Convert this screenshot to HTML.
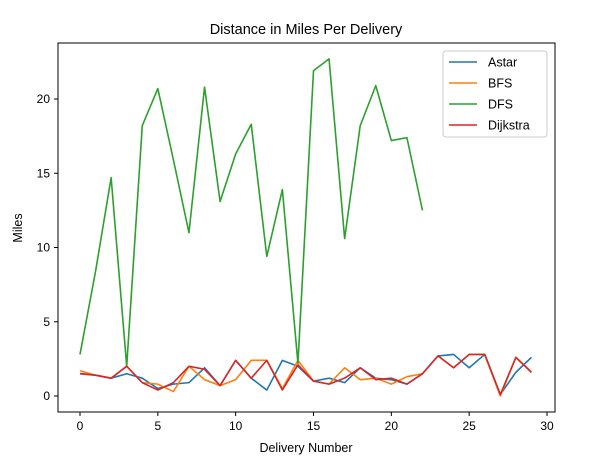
<!DOCTYPE html>
<html><head><meta charset="utf-8"><style>
body{margin:0;background:#fff;}
svg text{font-family:"Liberation Sans","DejaVu Sans",sans-serif;fill:#000;}
</style></head><body>
<svg id="chart" width="591" height="465" xmlns="http://www.w3.org/2000/svg">
<rect width="591" height="465" fill="#fff"/>
<text x="306" y="34" font-size="14.5" text-anchor="middle">Distance in Miles Per Delivery</text>
<text x="306" y="452" font-size="12.5" text-anchor="middle">Delivery Number</text>
<text x="22" y="228" font-size="12.5" text-anchor="middle" transform="rotate(-90 22 228)">Miles</text>
<g id="ticks"></g>
<g id="lines"></g>
<rect x="58" y="43" width="497" height="369" fill="none" stroke="#000" stroke-width="1"/>
<g id="legend"></g>
</svg>
<script>
const xTicks=[0,5,10,15,20,25,30];
const yTicks=[0,5,10,15,20];
const seriesNames=["Astar","BFS","DFS","Dijkstra"];
const seriesColors=["#1f77b4","#ff7f0e","#2ca02c","#d62728"];
const astar=[1.5,1.4,1.2,1.5,1.2,0.5,0.8,0.9,1.9,0.7,2.4,1.2,0.4,2.4,2.0,1.0,1.2,0.9,1.9,1.2,1.1,0.8,1.5,2.7,2.8,1.9,2.8,0.1,1.6,2.6];
const bfs=[1.7,1.4,1.2,2.0,0.9,0.8,0.3,2.0,1.1,0.7,1.1,2.4,2.4,0.5,2.4,1.0,0.8,1.9,1.1,1.2,0.8,1.3,1.5,2.7,1.9,2.8,2.8,0.0,2.6,1.6];
const dfs=[2.8,8.4,14.7,2.0,18.2,20.7,15.9,11.0,20.8,13.1,16.3,18.3,9.4,13.9,2.2,21.9,22.7,10.6,18.2,20.9,17.2,17.4,12.5];
const dijkstra=[1.5,1.4,1.2,2.0,0.9,0.4,0.9,2.0,1.8,0.7,2.4,1.2,2.4,0.4,2.1,1.0,0.8,1.2,1.9,1.1,1.2,0.8,1.5,2.7,1.9,2.8,2.8,0.1,2.6,1.6];
const NS="http://www.w3.org/2000/svg";
function xs(v){return 80+v*(547-80)/30;}
function ys(v){return 396-v*(396-99)/20;}
const tg=document.getElementById('ticks');
function mk(tag,attrs,parent){const e=document.createElementNS(NS,tag);for(const k in attrs)e.setAttribute(k,attrs[k]);parent.appendChild(e);return e;}
xTicks.forEach(t=>{
  const l=mk('line',{x1:xs(t),x2:xs(t),y1:412,y2:416,stroke:'#000'},tg);
  
  
  const tx=mk('text',{x:xs(t),y:430,'font-size':'12','text-anchor':'middle'},tg);tx.textContent=t;
  
  
});
yTicks.forEach(t=>{
  const l=mk('line',{x1:54,x2:58,y1:ys(t),y2:ys(t),stroke:'#000'},tg);
  
  
  const tx=mk('text',{x:50,y:ys(t)+4,'font-size':'12','text-anchor':'end'},tg);tx.textContent=t;
  
  
});
const lg=document.getElementById('lines');
[astar,bfs,dfs,dijkstra].forEach((arr,i)=>{
  const p=mk('polyline',{points:arr.map((v,j)=>xs(j)+','+ys(v)).join(' '),fill:'none',stroke:seriesColors[i],'stroke-width':'1.6','stroke-linejoin':'round'},lg);
  
  
});
const leg=document.getElementById('legend');
mk('rect',{x:443,y:51,width:104,height:86,rx:3,fill:'#fff',stroke:'#ccc','fill-opacity':'0.8'},leg);
seriesNames.forEach((n,i)=>{
  const y=62+i*21;
  const l=mk('line',{x1:449,x2:477,y1:y,y2:y,stroke:seriesColors[i],'stroke-width':'1.6'},leg);
  
  
  const t=mk('text',{x:488,y:y+4.5,'font-size':'12.5'},leg);t.textContent=n;
  
  
});
</script>
</body></html>
